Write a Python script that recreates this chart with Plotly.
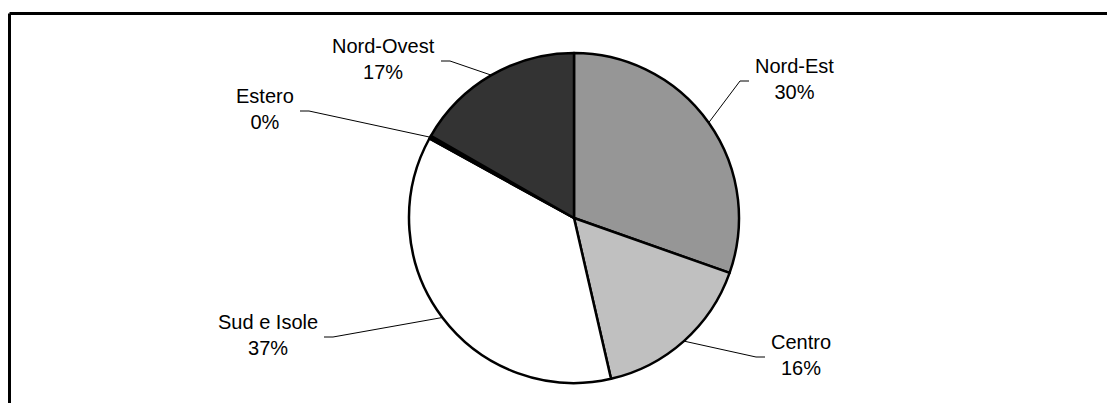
import math
import plotly.graph_objects as go

# ---- data ----
labels = ["Nord-Est", "Centro", "Sud e Isole", "Estero", "Nord-Ovest"]
values = [30.4, 16.0, 36.6, 0.3, 16.7]
colors = ["#969696", "#c0c0c0", "#ffffff", "#000000", "#333333"]

# ---- layout constants (pixels) ----
W, H = 1107, 403
CX, CY, R = 574, 218, 165
FONT = dict(family="Arial, Liberation Sans, sans-serif", size=20, color="#000000")

# leader-line elbow point and side of the label for each slice
elbows = {
    "Nord-Est": (740, 81, "right"),
    "Centro": (756, 357, "right"),
    "Sud e Isole": (333, 337, "left"),
    "Estero": (309, 111, "left"),
    "Nord-Ovest": (450, 61, "left"),
}
HSEG = 9
GAP = 4

total = sum(values)
pct = [f"{round(v / total * 100)}%" for v in values]

fig = go.Figure()
fig.add_trace(go.Pie(
    labels=labels, values=values, sort=False, direction="clockwise", rotation=0,
    marker=dict(colors=colors, line=dict(color="#000000", width=2.5)),
    textinfo="none", showlegend=False,
    domain=dict(x=[(CX - R) / W, (CX + R) / W], y=[(H - CY - R) / H, (H - CY + R) / H]),
))

shapes = []
annotations = []
cum = 0.0
for lab, v, p in zip(labels, values, pct):
    mid = (cum + v / 2) / total * 2 * math.pi
    cum += v
    ex = CX + R * math.sin(mid)
    ey = CY - R * math.cos(mid)
    bx, by, side = elbows[lab]
    hx = bx + HSEG if side == "right" else bx - HSEG
    shapes.append(dict(type="path", xref="x", yref="y",
                       path=f"M {ex:.1f},{ey:.1f} L {bx},{by} L {hx},{by}",
                       line=dict(color="#000000", width=1)))
    annotations.append(dict(xref="x", yref="y", x=hx + GAP if side == "right" else hx - GAP,
                            y=by - 2, xanchor="left" if side == "right" else "right",
                            yanchor="middle", align="center", showarrow=False,
                            text=f"{lab}<br>{p}", font=FONT))

# outer frame (top and left edges visible)
shapes.append(dict(type="line", xref="x", yref="y", x0=9.5, y0=13.5, x1=W + 10, y1=13.5,
                   line=dict(color="#000000", width=3)))
shapes.append(dict(type="line", xref="x", yref="y", x0=9.5, y0=13.5, x1=9.5, y1=H + 10,
                   line=dict(color="#000000", width=3)))

fig.update_layout(
    width=W, height=H, margin=dict(l=0, r=0, t=0, b=0),
    paper_bgcolor="#ffffff", plot_bgcolor="#ffffff",
    xaxis=dict(range=[0, W], visible=False, domain=[0, 1], fixedrange=True),
    yaxis=dict(range=[H, 0], visible=False, domain=[0, 1], fixedrange=True),
    shapes=shapes, annotations=annotations, font=FONT,
)

fig.write_html("out.html", config={"displayModeBar": False},
               post_script="document.body.style.margin='0';document.body.style.overflow='hidden';")
